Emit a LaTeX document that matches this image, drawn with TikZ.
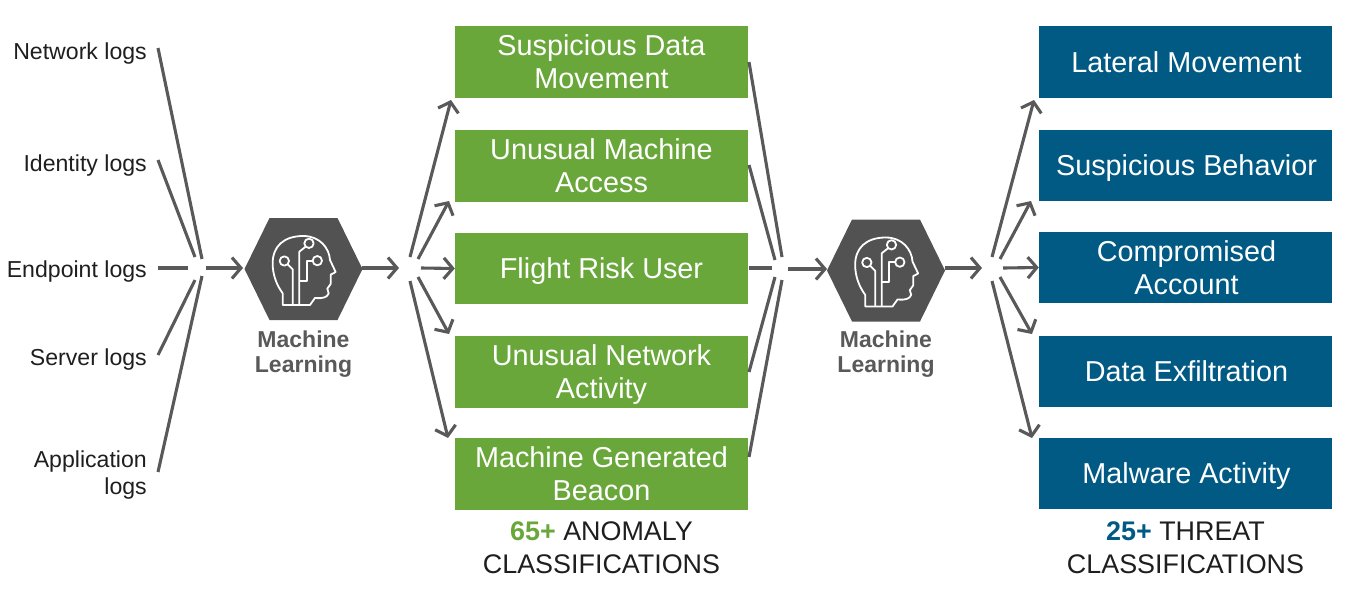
\documentclass[tikz,border=0pt]{standalone}
\usepackage{fontspec}
\setmainfont{Liberation Sans}
\usetikzlibrary{arrows.meta}
\definecolor{gline}{HTML}{595959}
\definecolor{hexc}{HTML}{525252}
\definecolor{gbox}{HTML}{69A73A}
\definecolor{bbox}{HTML}{005A84}
\definecolor{ink}{HTML}{1E1E1E}
\newcommand{\boxln}{\rule[-6pt]{0pt}{32.5pt}}
\newcommand{\thrln}{\hspace*{2pt}\boxln}
\newcommand{\srcln}{\rule[-5.3pt]{0pt}{26.9pt}}
\tikzset{
  x=1pt,y=-1pt,
  srclabel/.style={inner sep=0pt,align=right,anchor=east,text=ink,font=\fontsize{23.1}{27}\selectfont},
  boxbase/.style={minimum width=293pt,minimum height=72pt,inner sep=0pt,align=center,text=white,font=\fontsize{28.8}{33}\selectfont},
  anomaly/.style={boxbase,fill=gbox},
  threat/.style={boxbase,fill=bbox},
  mllabel/.style={inner sep=0pt,align=center,text=gline,font=\bfseries\fontsize{23}{25}\selectfont},
  classlabel/.style={inner sep=0pt,align=center,text=ink,font=\fontsize{26.9}{33}\selectfont},
  wire/.style={draw=gline,line width=3.1pt},
  arrowwire/.style={wire,-{Straight Barb[length=9pt,width=21pt,line width=3.1pt]}},
  headline/.style={draw=white,line width=1.8pt,line join=round,fill=none},
  brainpic/.pic={
    \fill[hexc] (-59,0) -- (-34,-51) -- (34,-51) -- (59,0) -- (34,51) -- (-34,51) -- cycle;
    \begin{scope}[shift={(-63.5,-59)},x=0.3333pt,y=-0.3333pt]
      \draw[headline] (128,285) -- (128,250) .. controls (110,225) and (98,195) .. (98,160)
        .. controls (98,110) and (130,78) .. (190,78)
        .. controls (240,78) and (268,115) .. (270,150) -- (287,186) -- (272,194) -- (272,222)
        -- (262,236) -- (266,250) .. controls (262,262) and (250,266) .. (225,264)
        -- (210,285) -- cycle;
      \draw[headline] (133,153) circle (14);
      \draw[headline] (207,100) circle (14);
      \draw[headline] (232,152) circle (14);
      \draw[headline] (143,163) -- (158,178) -- (158,285);
      \draw[headline] (197,110) -- (178,125) -- (178,285);
      \draw[headline] (218,152) -- (200,152) -- (200,212) -- (178,212);
    \end{scope}
  }
}
\begin{document}
\begin{tikzpicture}
\useasboundingbox (0,0) rectangle (1347,592);
% source labels
\node[srclabel] (s1) at (147,51) {Network logs\srcln};
\node[srclabel] (s2) at (147,163) {Identity logs\srcln};
\node[srclabel] (s3) at (147,269) {Endpoint logs\srcln};
\node[srclabel] (s4) at (147,357) {Server logs\srcln};
\node[srclabel] (s5) at (147,473) {Application\srcln\\logs\srcln};
% hexagons
\coordinate (h1) at (303.5,269);
\coordinate (h2) at (886,270.5);
\pic at (h1) {brainpic};
\pic at (h2) {brainpic};
\node[mllabel] (m1) at (303.5,354) {Machine\\Learning};
\node[mllabel] (m2) at (886,354) {Machine\\Learning};
% boxes
\node[anomaly] (a1) at (601.5,62) {Suspicious Data\boxln\\Movement\boxln};
\node[anomaly] (a2) at (601.5,166) {Unusual Machine\boxln\\Access\boxln};
\node[anomaly,minimum height=71pt] (a3) at (601.5,268.5) {Flight Risk User\boxln};
\node[anomaly] (a4) at (601.5,372) {Unusual Network\boxln\\Activity\boxln};
\node[anomaly] (a5) at (601.5,474) {Machine Generated\boxln\\Beacon\boxln};
\node[threat] (t1) at (1185.5,62) {\thrln Lateral Movement};
\node[threat,minimum height=71pt] (t2) at (1185.5,165.5) {\thrln Suspicious Behavior};
\node[threat,minimum height=71pt] (t3) at (1185.5,267.5) {\thrln Compromised\\\thrln Account};
\node[threat,minimum height=71pt] (t4) at (1185.5,371.5) {\thrln Data Exfiltration};
\node[threat,minimum height=71pt] (t5) at (1185.5,473.5) {\thrln Malware Activity};
\node[classlabel] (c1) at (601.5,548) {\textcolor{gbox}{\textbf{65+}} ANOMALY\\CLASSIFICATIONS};
\node[classlabel] (c2) at (1185.5,548) {\textcolor{bbox}{\textbf{25+}} THREAT\\CLASSIFICATIONS};
% connector coordinates
\coordinate (l1a) at (158,48);  \coordinate (l1b) at (202,259);
\coordinate (l2a) at (158,160); \coordinate (l2b) at (195,257);
\coordinate (l3a) at (158,268); \coordinate (l3b) at (188,268);
\coordinate (l4a) at (158,355); \coordinate (l4b) at (195,280);
\coordinate (l5a) at (158,472); \coordinate (l5b) at (202,276);
\coordinate (in1) at (206,268); \coordinate (hl1) at (243,268);
\coordinate (hr1) at (362,268); \coordinate (out1) at (399,268);
\coordinate (f1a) at (410,257); \coordinate (f1b) at (451,100);
\coordinate (f2a) at (418,259); \coordinate (f2b) at (449,201);
\coordinate (f3a) at (421,268);
\coordinate (f4a) at (418,277); \coordinate (f4b) at (449,334);
\coordinate (f5a) at (410,281); \coordinate (f5b) at (448,438);
\coordinate (g1a) at (749,62);  \coordinate (g1b) at (782,257);
\coordinate (g2a) at (749,165); \coordinate (g2b) at (775,260);
\coordinate (g3a) at (749,268); \coordinate (g3b) at (772,268);
\coordinate (g4a) at (749,372); \coordinate (g4b) at (775,277);
\coordinate (g5a) at (749,457); \coordinate (g5b) at (782,280);
\coordinate (in2) at (788,269); \coordinate (hl2) at (827,269);
\coordinate (hr2) at (945,268); \coordinate (out2) at (982,268);
\coordinate (k1a) at (992,257); \coordinate (k1b) at (1034,100);
\coordinate (k2a) at (1000,259); \coordinate (k2b) at (1031,201);
\coordinate (k3a) at (1003,268);
\coordinate (k4a) at (1000,277); \coordinate (k4b) at (1032,334);
\coordinate (k5a) at (992,281); \coordinate (k5b) at (1032,438);
% connectors
\draw[wire] (l1a) -- (l1b);
\draw[wire] (l2a) -- (l2b);
\draw[wire] (l3a) -- (l3b);
\draw[wire] (l4a) -- (l4b);
\draw[wire] (l5a) -- (l5b);
\draw[arrowwire] (in1) -- (hl1);
\draw[arrowwire] (hr1) -- (out1);
\draw[arrowwire] (f1a) -- (f1b);
\draw[arrowwire] (f2a) -- (f2b);
\draw[arrowwire] (f3a) -- (a3.west);
\draw[arrowwire] (f4a) -- (f4b);
\draw[arrowwire] (f5a) -- (f5b);
\draw[wire] (g1a) -- (g1b);
\draw[wire] (g2a) -- (g2b);
\draw[wire] (g3a) -- (g3b);
\draw[wire] (g4a) -- (g4b);
\draw[wire] (g5a) -- (g5b);
\draw[arrowwire] (in2) -- (hl2);
\draw[arrowwire] (hr2) -- (out2);
\draw[arrowwire] (k1a) -- (k1b);
\draw[arrowwire] (k2a) -- (k2b);
\draw[arrowwire] (k3a) -- (t3.west);
\draw[arrowwire] (k4a) -- (k4b);
\draw[arrowwire] (k5a) -- (k5b);
\end{tikzpicture}
\end{document}
